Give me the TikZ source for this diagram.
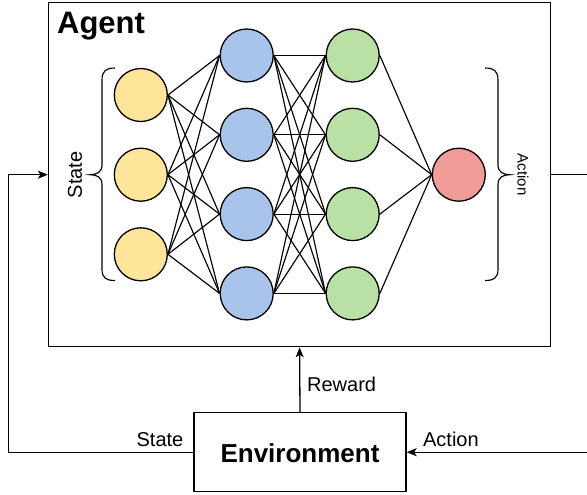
\documentclass[tikz,border=0pt]{standalone}
\usepackage{fontspec}
\setmainfont{Liberation Sans}
\usetikzlibrary{arrows.meta}
\definecolor{cyel}{HTML}{FFE599}
\definecolor{cblu}{HTML}{A9C4EB}
\definecolor{cgrn}{HTML}{B9E0A5}
\definecolor{cred}{HTML}{F19C99}
\begin{document}
\begin{tikzpicture}[x=1pt,y=-1pt,line width=1.3pt,
  neuron/.style={circle,draw,minimum size=53pt,inner sep=0pt},
  box/.style={draw,rectangle,inner sep=0pt},
  arr/.style={-{Stealth[length=10pt,width=8pt,inset=2.5pt]}},
  lbl/.style={inner sep=0pt,font=\fontsize{20}{24}\selectfont},
  conn/.style={line width=1.15pt}]
\clip (0,0) rectangle (587,495);
\useasboundingbox (0,0) rectangle (587,495);
% boxes
\node[box,minimum width=502.2pt,minimum height=344pt] (agent) at (299.6,174.7) {};
\node[box,minimum width=212pt,minimum height=79pt] (env) at (300,452.2) {};
\node[inner sep=0pt,anchor=base west,font=\fontsize{31}{36}\selectfont\bfseries] (agentlbl) at (56.5,33.3) {Agent};
\node[inner sep=0pt,anchor=base,font=\fontsize{26}{30}\selectfont\bfseries] (envlbl) at (300,462.8) {Environment};
% neurons
\foreach \i/\y in {1/95,2/174.7,3/254.3}
  \node[neuron,fill=cyel] (y\i) at (140.8,\y) {};
\foreach \i/\y in {1/55.5,2/134.8,3/214.1,4/293.4}{
  \node[neuron,fill=cblu] (b\i) at (246.7,\y) {};
  \node[neuron,fill=cgrn] (g\i) at (352.7,\y) {};
}
\node[neuron,fill=cred] (r) at (458.8,174.7) {};
% connections
\foreach \i in {1,2,3}
  \foreach \j in {1,2,3,4}
    \draw[conn] (y\i.east) -- (b\j.west);
\foreach \i in {1,2,3,4}
  \foreach \j in {1,2,3,4}
    \draw[conn] (b\i.east) -- (g\j.west);
\foreach \i in {1,2,3,4}
  \draw[conn] (g\i.east) -- (r.west);
% braces
\draw[conn] (115,68) .. controls (106,68) and (102,71) .. (102,80) -- (102,165) .. controls (102,172) and (97,174.7) .. (90,174.7) .. controls (97,174.7) and (102,177.4) .. (102,184.4) -- (102,269) .. controls (102,278) and (106,280.5) .. (115,280.5);
\draw[conn] (485,68) .. controls (494,68) and (498,71) .. (498,80) -- (498,165) .. controls (498,172) and (503,174.7) .. (510,174.7) .. controls (503,174.7) and (498,177.4) .. (498,184.4) -- (498,269) .. controls (498,278) and (494,280.5) .. (485,280.5);
\node[inner sep=0pt,rotate=90,font=\fontsize{20}{24}\selectfont] (statev) at (75,174.7) {State};
\node[inner sep=0pt,rotate=-90,font=\fontsize{15}{18}\selectfont] (actionv) at (523,174.7) {Action};
% loop connectors
\coordinate (sl) at (8.3,452.2);
\coordinate (ar) at (600,452.2);
\draw[arr] (env.north) -- (agent.south);
\draw[arr] (env.west) -- (sl) |- (agent.west);
\draw[arr] (agent.east) -| (ar) -- (env.east);
\node[lbl,anchor=base west] (rew) at (306.5,391) {Reward};
\node[lbl,anchor=base east] (stl) at (184,446.6) {State};
\node[lbl,anchor=base west] (acl) at (422.5,446.6) {Action};
\end{tikzpicture}
\end{document}
